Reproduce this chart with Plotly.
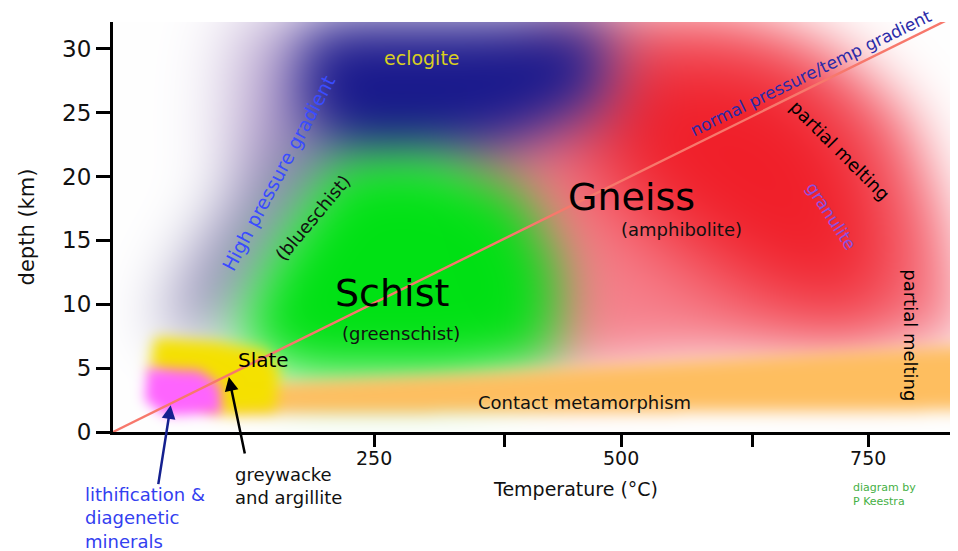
import numpy as np
import zlib, struct, base64
import plotly.graph_objects as go

# ---------------- axes ----------------
x_range = [-14.2, 832.8]          # temperature (deg C)
y_range = [0.0, 32.1]             # depth (km)
x_tickvals = [250, 381.6, 500, 632.5, 750]
x_ticktext = ["250", "", "500", "", "750"]
y_tickvals = [0, 5, 10, 15, 20, 25, 30]

# ---------------- metamorphic facies regions (temperature, depth) ----------------
gneiss_outer_T = [438, 600, 711, 787, 828, 850, 580, 438, 357, 317]
gneiss_outer_depth = [31.8, 32.4, 29.7, 24.8, 16.6, 7.2, 6.0, 4.8, 10.3, 23.6]
gneiss_core_T = [479, 661, 752, 782, 762, 641, 519, 438]
gneiss_core_depth = [30.6, 29.9, 23.6, 13.4, 8.0, 10.3, 16.6, 24.4]
halo_T = [114, 509, 499, 296, 175, 104]
halo_depth = [32.6, 32.6, 24.4, 20.5, 18.2, 21.2]
eclogite_T = [195, 479, 479, 398, 296, 216, 175, 175]
eclogite_depth = [31.8, 31.8, 26.3, 23.2, 21.2, 21.2, 24.4, 29.9]
blueschist_T = [175, 216, 175, 124, 74, 33, 64, 124]
blueschist_depth = [24.4, 22.0, 15.8, 10.3, 7.2, 8.0, 13.4, 20.5]
schist_T = [212, 307, 398, 438, 433, 327, 175, 106, 142]
schist_depth = [21.4, 21.7, 18.9, 12.6, 5.6, 4.2, 4.2, 7.0, 13.4]
contact_T = [99, 377.5, 860, 860, 99]
contact_depth = [3.65, 4.7, 6.8, 1.7, 1.46]
slate_T = [28, 89, 140, 155, 150, 89, 23]
slate_depth = [7.4, 7.1, 6.4, 4.8, 1.7, 1.5, 5.0]
diagenesis_T = [21, 74, 94, 96, 38.5, 18]
diagenesis_depth = [5.0, 4.8, 3.65, 1.46, 1.3, 2.5]

# normal geothermal gradient line
gradient_T = [-14.2, 835]
gradient_depth = [0, 32.45]

# arrows (tip, tail)
litho_arrow = dict(tip=(44.2, 2.1), tail=(31.4, -4.2))
grey_arrow = dict(tip=(103, 4.3), tail=(119.5, -1.8))

# ---------------- styles for regions: (T, depth, rgb, opacity, blur px) ----------------
layers = [
    (gneiss_outer_T, gneiss_outer_depth, (240, 45, 65), 0.6, 28),
    (gneiss_core_T, gneiss_core_depth, (240, 25, 35), 0.95, 42),
    (halo_T, halo_depth, (125, 85, 165), 0.55, 35),
    (eclogite_T, eclogite_depth, (24, 24, 140), 1.0, 27),
    (blueschist_T, blueschist_depth, (105, 95, 155), 0.75, 30),
    (schist_T, schist_depth, (0, 225, 20), 1.0, 27),
    (contact_T, contact_depth, (255, 190, 95), 1.0, 8),
    (slate_T, slate_depth, (245, 225, 0), 1.0, 7),
    (diagenesis_T, diagenesis_depth, (255, 100, 255), 1.0, 6),
]

# ---------------- raster of blurred regions ----------------
NX, NY = 837, 410
M = 150
dT = (x_range[1] - x_range[0]) / NX
dD = (y_range[1] - y_range[0]) / NY
jj = np.arange(-M, NX + M)
ii = np.arange(-M, NY + M)
GT = x_range[0] + (jj + 0.5) * dT
GD = y_range[1] - (ii + 0.5) * dD
PX, PY = np.meshgrid(GT, GD)


def inside(px, py, xs, ys):
    res = np.zeros(px.shape, dtype=bool)
    n = len(xs)
    j = n - 1
    for i in range(n):
        xi, yi, xj, yj = xs[i], ys[i], xs[j], ys[j]
        cond = ((yi > py) != (yj > py)) & (px < (xj - xi) * (py - yi) / (yj - yi + 1e-12) + xi)
        res ^= cond
        j = i
    return res.astype(float)


def blur(a, s):
    pad = int(3 * s) + 2
    b = np.pad(a, pad)
    for axis in (0, 1):
        n = b.shape[axis]
        f = np.fft.rfftfreq(n)
        g = np.exp(-2 * (np.pi * f * s) ** 2)
        shape = [1, 1]
        shape[axis] = -1
        b = np.fft.irfft(np.fft.rfft(b, axis=axis) * g.reshape(shape), n=n, axis=axis)
    return b[pad:-pad, pad:-pad]


rgb = np.ones((PX.shape[0], PX.shape[1], 3))
for xs, ys, col, op, s in layers:
    a = np.clip(blur(inside(PX, PY, xs, ys), s), 0, 1) * op
    c = np.array(col) / 255.0
    rgb = rgb * (1 - a[..., None]) + c * a[..., None]
rgb = rgb[M:M + NY, M:M + NX]
img = (np.clip(rgb, 0, 1) * 255).astype(np.uint8)


def png_bytes(arr):
    h, w, _ = arr.shape
    raw = b"".join(b"\x00" + arr[r].tobytes() for r in range(h))

    def chunk(t, d):
        return struct.pack(">I", len(d)) + t + d + struct.pack(">I", zlib.crc32(t + d) & 0xFFFFFFFF)

    return (b"\x89PNG\r\n\x1a\n" + chunk(b"IHDR", struct.pack(">IIBBBBB", w, h, 8, 2, 0, 0, 0))
            + chunk(b"IDAT", zlib.compress(raw, 9)) + chunk(b"IEND", b""))


src = "data:image/png;base64," + base64.b64encode(png_bytes(img)).decode()


def xd(T):
    return (T - x_range[0]) / (x_range[1] - x_range[0])


def yd(d):
    return (d - y_range[0]) / (y_range[1] - y_range[0])


FONT = "DejaVu Sans"
fig = go.Figure()
fig.add_trace(go.Scatter(x=gradient_T, y=gradient_depth, mode="lines",
                         line=dict(color="#f7786c", width=2.4), cliponaxis=False,
                         hoverinfo="skip", showlegend=False))

fig.add_layout_image(dict(source=src, xref="x", yref="y", x=x_range[0], y=y_range[1],
                          sizex=x_range[1] - x_range[0], sizey=y_range[1] - y_range[0],
                          sizing="stretch", xanchor="left", yanchor="top", layer="below"))

labels = [
    # text, T, depth, size, color, angle
    ("eclogite", 298.6, 29.3, 19, "#d9cf1f", 0),
    ("High pressure gradient", 153, 20.3, 19, "#3a4cff", -62),
    ("(blueschist)", 188, 16.8, 18, "#111111", -50),
    ("Schist", 268, 10.9, 38, "#000000", 0),
    ("(greenschist)", 277, 7.75, 18, "#111111", 0),
    ("Slate", 138, 5.6, 20, "#000000", 0),
    ("Gneiss", 510, 18.4, 38, "#000000", 0),
    ("(amphibolite)", 560.7, 15.85, 18, "#111111", 0),
    ("normal pressure/temp gradient", 692, 28.1, 17, "#2a2aa8", -26),
    ("partial melting", 721.6, 22.05, 18, "#000000", 45),
    ("granulite", 712.5, 16.9, 17, "#8a4fe0", 57),
    ("partial melting", 793.4, 7.57, 18, "#000000", 90),
    ("Contact metamorphism", 462.8, 2.34, 18, "#111111", 0),
    ("Temperature (°C)", 453.4, -4.48, 19, "#111111", 0),
]
for t, x, y, s, c, ang in labels:
    fig.add_annotation(x=xd(x), y=yd(y), text=t, showarrow=False, textangle=ang,
                       xanchor="center", yanchor="middle",
                       font=dict(family=FONT, size=s, color=c), xref="x domain", yref="y domain")

extra = [
    ("greywacke<br>and argillite", 107.5, -4.2, 18, "#111111"),
    ("lithification &amp;<br>diagenetic<br>minerals", -44.5, -6.75, 18, "#3340f0"),
    ("diagram by<br>P Keestra", 732.5, -4.87, 11, "#45b045"),
]
for t, x, y, s, c in extra:
    fig.add_annotation(x=xd(x), y=yd(y), text=t, showarrow=False, xanchor="left", yanchor="middle",
                       align="left", xref="x domain", yref="y domain",
                       font=dict(family=FONT, size=s, color=c))

for arr, col in ((litho_arrow, "#14208f"), (grey_arrow, "#000000")):
    fig.add_annotation(x=arr["tip"][0], y=arr["tip"][1], ax=arr["tail"][0], ay=arr["tail"][1],
                       xref="x", yref="y", axref="x", ayref="y", showarrow=True, text="",
                       arrowhead=2, arrowsize=1.1, arrowwidth=2.5, arrowcolor=col)

fig.update_layout(
    width=958, height=551, margin=dict(l=113, r=8, t=22, b=119),
    paper_bgcolor="white", plot_bgcolor="white", showlegend=False,
    font=dict(family=FONT, color="#111111"),
)
fig.update_xaxes(range=x_range, tickvals=x_tickvals, ticktext=x_ticktext, ticks="outside",
                 ticklen=12, tickwidth=2.5, tickcolor="black", showline=True, linewidth=3,
                 linecolor="black", showgrid=False, zeroline=False, ticklabelstandoff=-5,
                 tickfont=dict(family=FONT, size=19, color="#111111"))
fig.update_yaxes(range=y_range, tickvals=y_tickvals, ticks="outside", ticklen=14, tickwidth=2.5,
                 tickcolor="black", showline=True, linewidth=3, linecolor="black", showgrid=False,
                 zeroline=False, tickfont=dict(family=FONT, size=23, color="#111111"),
                 title=dict(text="depth (km)", font=dict(family=FONT, size=21, color="#111111"),
                            standoff=22))
fig.write_html("out.html", config={"displayModeBar": False},
               post_script="document.body.style.margin='0px';")
